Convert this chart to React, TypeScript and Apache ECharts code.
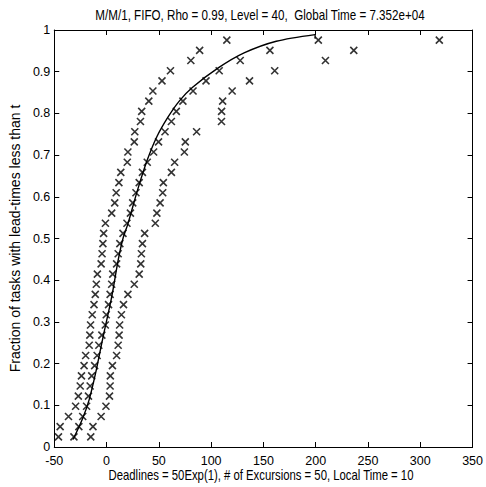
import React, { useEffect, useRef } from "react";
import * as echarts from "echarts";

const TITLE = "M/M/1, FIFO, Rho = 0.99, Level = 40,  Global Time = 7.352e+04";
const X_NAME = "Deadlines = 50Exp(1), # of Excursions = 50, Local Time = 10";
const Y_NAME = "Fraction of tasks with lead-times less than t";

const X_MIN = -50;
const X_MAX = 350;
const X_STEP = 50;
const Y_MIN = 0;
const Y_MAX = 1;
const Y_STEP = 0.1;

const levels = [
  0.0244, 0.0488, 0.0732, 0.0976, 0.122, 0.1463, 0.1707, 0.1951, 0.2195, 0.2439,
  0.2683, 0.2927, 0.3171, 0.3415, 0.3659, 0.3902, 0.4146, 0.439, 0.4634, 0.4878,
  0.5122, 0.5366, 0.561, 0.5854, 0.6098, 0.6341, 0.6585, 0.6829, 0.7073, 0.7317,
  0.7561, 0.7805, 0.8049, 0.8293, 0.8537, 0.878, 0.9024, 0.9268, 0.9512, 0.9756,
];

const leftX = [
  -46.0, -44.4, -36.4, -29.6, -27.0, -25.2, -24.0, -21.5, -20.0, -16.6,
  -16.0, -15.3, -13.7, -12.0, -10.8, -9.8, -8.8, -5.2, -4.3, -3.5,
  -2.8, -1.1, 4.9, 7.8, 9.2, 11.8, 13.6, 19.8, 20.4, 26.5,
  27.0, 32.4, 33.6, 40.4, 44.3, 53.0, 61.1, 80.6, 89.0, 115.0,
];

const middleX = [
  -31.2, -26.5, -22.8, -19.1, -17.3, -15.7, -14.2, -11.4, -9.0, -7.4,
  -4.5, -1.2, -0.3, 1.9, 3.4, 4.9, 5.9, 9.6, 11.1, 12.7,
  15.7, 19.5, 22.8, 25.0, 28.1, 31.2, 34.3, 38.9, 45.0, 49.7,
  55.9, 62.0, 66.7, 73.0, 82.7, 95.1, 107.7, 127.8, 156.2, 202.5,
];

const rightX = [
  -15.1, -13.0, -5.2, -0.6, 2.8, 3.4, 3.6, 5.6, 9.6, 11.1,
  12.0, 12.5, 14.2, 16.2, 20.4, 26.5, 31.2, 32.7, 33.3, 34.3,
  36.4, 46.6, 48.1, 51.2, 53.7, 54.3, 62.0, 65.1, 74.4, 75.3,
  86.1, 109.9, 110.0, 111.0, 120.1, 136.7, 160.8, 209.3, 236.4, 318.2,
];

// theoretical curve
const curveX = [
  -32, -22.8, -16.7, -10.5, -5.9, -2.8, 4.9, 11.1, 15.7, 20.4,
  29.6, 38.9, 48.1, 59, 69.7, 82, 106.8, 131.5, 162.3, 199.4,
];
const curveY = [
  0.018, 0.069, 0.113, 0.177, 0.233, 0.27, 0.36, 0.448, 0.5, 0.535,
  0.616, 0.688, 0.744, 0.792, 0.83, 0.862, 0.909, 0.945, 0.973, 0.989,
];
const endTickX = [199.4, 199.4];
const endTickY = [0.989, 0.979];

const SANS = '"Liberation Sans", Arial, Helvetica, sans-serif';

const CROSS = "path://M0 0L10 10M10 0L0 10";

function pairs(xs: number[], ys: number[]) {
  return xs.map((x, i) => [x, ys[i]]);
}

export default function App() {
  const ref = useRef<HTMLDivElement>(null);

  useEffect(() => {
    if (!ref.current) return;
    const chart = echarts.init(ref.current, undefined, { renderer: "svg" });

    const scatterStyle = {
      type: "scatter" as const,
      symbol: CROSS,
      symbolSize: 7,
      silent: true,
      itemStyle: { color: "none", borderColor: "#000", borderWidth: 1.6 },
      emphasis: { disabled: true },
    };

    const xCommon = {
      type: "value" as const,
      min: X_MIN,
      max: X_MAX,
      interval: X_STEP,
      splitLine: { show: false },
      axisLine: { show: true, onZero: false, lineStyle: { color: "#000", width: 1 } },
      axisTick: { show: true, inside: true, length: 5, lineStyle: { color: "#000" } },
    };
    const yCommon = {
      type: "value" as const,
      min: Y_MIN,
      max: Y_MAX,
      interval: Y_STEP,
      splitLine: { show: false },
      axisLine: { show: true, onZero: false, lineStyle: { color: "#000", width: 1 } },
      axisTick: { show: true, inside: true, length: 5, lineStyle: { color: "#000" } },
    };

    chart.setOption({
      animation: false,
      backgroundColor: "#fff",
      grid: { left: 44, right: 10, top: 30, bottom: 40, containLabel: false },
      graphic: [
        {
          type: "text",
          x: 260,
          y: 15,
          scaleX: 0.83,
          silent: true,
          style: {
            text: TITLE,
            font: '14px "Liberation Sans", Arial, sans-serif',
            fill: "#000",
            align: "center",
            verticalAlign: "middle",
          },
        },
        {
          type: "text",
          x: 261,
          y: 475,
          scaleX: 0.81,
          silent: true,
          style: {
            text: X_NAME,
            font: '14px "Liberation Sans", Arial, sans-serif',
            fill: "#000",
            align: "center",
            verticalAlign: "middle",
          },
        },
      ],
      xAxis: [
        {
          ...xCommon,
          position: "bottom",
          axisLabel: { fontFamily: SANS, fontSize: 12.5, color: "#000", margin: 7 },
        },
        {
          ...xCommon,
          position: "top",
          axisLabel: { show: false },
        },
      ],
      yAxis: [
        {
          ...yCommon,
          position: "left",
          name: Y_NAME,
          nameLocation: "middle",
          nameGap: 22,
          nameTextStyle: { fontFamily: SANS, fontSize: 14, color: "#000" },
          axisLabel: { fontFamily: SANS, fontSize: 12.5, color: "#000", margin: 4 },
        },
        {
          ...yCommon,
          position: "right",
          axisLabel: { show: false },
        },
      ],
      series: [
        { ...scatterStyle, data: pairs(leftX, levels) },
        { ...scatterStyle, data: pairs(middleX, levels) },
        { ...scatterStyle, data: pairs(rightX, levels) },
        {
          type: "line",
          data: pairs(curveX, curveY),
          smooth: 0.3,
          symbol: "none",
          silent: true,
          lineStyle: { color: "#000", width: 1.4 },
        },
        {
          type: "line",
          data: pairs(endTickX, endTickY),
          symbol: "none",
          silent: true,
          lineStyle: { color: "#000", width: 1.2 },
        },
      ],
    });

    return () => chart.dispose();
  }, []);

  return (
    <div
      ref={ref}
      style={{ position: "fixed", left: 0, top: 0, width: 486, height: 487, background: "#fff" }}
    />
  );
}
